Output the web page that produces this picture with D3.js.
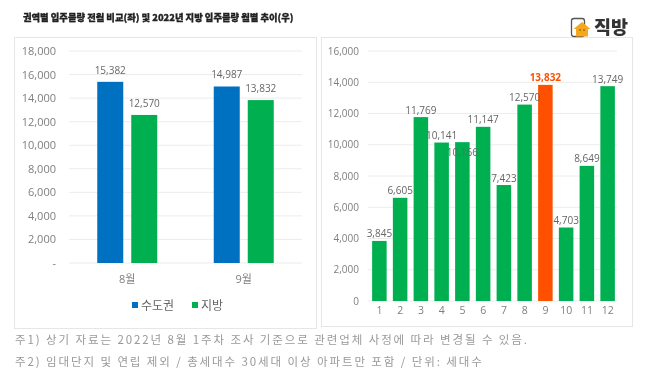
<!DOCTYPE html>
<html>
<head>
<meta charset="utf-8">
<script src="https://cdn.jsdelivr.net/npm/d3@7"></script>
<style>
  html, body { margin: 0; padding: 0; background: #fff; }
  svg { display: block; font-family: "Noto Sans CJK KR", "Noto Sans", sans-serif; filter: blur(0.35px); }
  .tick-label { fill: #7f7f7f; font-size: 11px; font-family: "Open Sans", "Noto Sans CJK KR", sans-serif; }
  .value-label { fill: #666; font-size: 10px; font-family: "Open Sans", "Noto Sans CJK KR", sans-serif; }
  .note { fill: #999; font-size: 11.5px; letter-spacing: 1.9px; }
</style>
</head>
<body>
<div id="chart"></div>
<script>
var svgWidth = 647;
var svgHeight = 381;

const titleText = "권역별 입주물량 전월 비교(좌) 및 2022년 지방 입주물량 월별 추이(우)";
const logoText = "직방";

// left chart
const leftCategories = ["8월", "9월"];
const leftSeriesNames = ["수도권", "지방"];
const metroValues = [15382, 14987];
const localValues = [12570, 13832];
const leftTicks = [0, 2000, 4000, 6000, 8000, 10000, 12000, 14000, 16000, 18000];

// right chart
const months = ["1", "2", "3", "4", "5", "6", "7", "8", "9", "10", "11", "12"];
const monthlyValues = [3845, 6605, 11769, 10141, 10166, 11147, 7423, 12570, 13832, 4703, 8649, 13749];
const rightTicks = [0, 2000, 4000, 6000, 8000, 10000, 12000, 14000, 16000];
const highlightMonth = "9";
const insideLabelMonth = "5";

const notes = [
  "주1) 상기 자료는 2022년 8월 1주차 조사 기준으로 관련업체 사정에 따라 변경될 수 있음.",
  "주2) 임대단지 및 연립 제외 / 총세대수 30세대 이상 아파트만 포함 / 단위: 세대수"
];

const blue = "#0070c0", green = "#00b050", orange = "#ff5000";
const fmt = d3.format(",");

var svg = d3.select("#chart").append("svg")
  .attr("width", svgWidth)
  .attr("height", svgHeight);

svg.append("text")
  .attr("x", 23)
  .attr("y", 21)
  .attr("font-size", 9.3)
  .attr("font-weight", 900)
  .attr("fill", "#222")
  .attr("stroke", "#222")
  .attr("stroke-width", 0.3)
  .text(titleText);

// panels
function panel(x, y, w, h) {
  svg.append("rect")
    .attr("x", x + 0.5).attr("y", y + 0.5)
    .attr("width", w).attr("height", h)
    .attr("fill", "#fff")
    .attr("stroke", "#e6e6e6");
}
panel(14, 37, 302, 291);
panel(321, 37, 311, 289);

function grid(yScale, ticks, x0, x1) {
  svg.append("g").selectAll("line")
    .data(ticks)
    .join("line")
    .attr("x1", x0).attr("x2", x1)
    .attr("y1", d => yScale(d)).attr("y2", d => yScale(d))
    .attr("stroke", "#ececec");
}

// Left chart
const yLeft = d3.scaleLinear().domain([0, 18000]).range([263, 51]);
const xLeft = d3.scaleBand().domain(leftCategories).range([69, 302]);
const xLeftInner = d3.scalePoint().domain(leftSeriesNames).range([-17, 17]);
const leftBarWidth = 26;

grid(yLeft, leftTicks, 69, 302);

const yLeftAxis = d3.axisLeft(yLeft)
  .tickValues(leftTicks)
  .tickSize(0)
  .tickPadding(0)
  .tickFormat(d => d === 0 ? "-" : fmt(d));
svg.append("g")
  .attr("transform", "translate(56,0)")
  .call(yLeftAxis)
  .call(g => g.select(".domain").remove())
  .call(g => g.selectAll("text").attr("class", "tick-label"));

const leftSeries = [
  { name: leftSeriesNames[0], values: metroValues, color: blue },
  { name: leftSeriesNames[1], values: localValues, color: green }
];

leftSeries.forEach(s => {
  const cx = (d, i) => xLeft(leftCategories[i]) + xLeft.bandwidth() / 2 + xLeftInner(s.name);
  svg.append("g").selectAll("rect")
    .data(s.values)
    .join("rect")
    .attr("x", (d, i) => cx(d, i) - leftBarWidth / 2)
    .attr("y", d => yLeft(d))
    .attr("width", leftBarWidth)
    .attr("height", d => yLeft(0) - yLeft(d))
    .attr("fill", s.color);
  svg.append("g").selectAll("text")
    .data(s.values)
    .join("text")
    .attr("class", "value-label")
    .attr("x", cx)
    .attr("y", d => yLeft(d) - 8)
    .attr("text-anchor", "middle")
    .text(fmt);
});

const xLeftAxis = d3.axisBottom(xLeft).tickSize(0).tickPadding(0);
svg.append("g")
  .attr("transform", "translate(0,275)")
  .call(xLeftAxis)
  .call(g => g.select(".domain").remove())
  .call(g => g.selectAll("text").attr("class", "tick-label"));

// legend
const legendX = d3.scalePoint().domain(leftSeriesNames).range([132, 192]);
const legend = svg.append("g").selectAll("g")
  .data(leftSeries)
  .join("g")
  .attr("transform", d => `translate(${legendX(d.name)},305)`);
legend.append("rect")
  .attr("y", -3).attr("width", 6).attr("height", 6)
  .attr("fill", d => d.color);
legend.append("text")
  .attr("x", 9)
  .attr("y", 4.5)
  .attr("font-size", 12)
  .attr("fill", "#666")
  .text(d => d.name);

// Right chart
const yRight = d3.scaleLinear().domain([0, 16000]).range([301, 51]);
const xRight = d3.scaleBand().domain(months).range([369, 618]).paddingInner(0.3).paddingOuter(0.15);

grid(yRight, rightTicks, 368, 617);

const yRightAxis = d3.axisLeft(yRight)
  .tickValues(rightTicks)
  .tickSize(0)
  .tickPadding(0)
  .tickFormat(fmt);
svg.append("g")
  .attr("transform", "translate(359,0)")
  .call(yRightAxis)
  .call(g => g.select(".domain").remove())
  .call(g => g.selectAll("text").attr("class", "tick-label").style("font-size", "10px"));

svg.append("g").selectAll("rect")
  .data(monthlyValues)
  .join("rect")
  .attr("x", (d, i) => xRight(months[i]))
  .attr("y", d => yRight(d))
  .attr("width", xRight.bandwidth())
  .attr("height", d => yRight(0) - yRight(d))
  .attr("fill", (d, i) => months[i] === highlightMonth ? orange : green);

// the May label sits inside its bar in the original, the others above
svg.append("g").selectAll("text")
  .data(monthlyValues)
  .join("text")
  .attr("class", "value-label")
  .attr("x", (d, i) => xRight(months[i]) + xRight.bandwidth() / 2)
  .attr("y", (d, i) => months[i] === insideLabelMonth ? yRight(d) + 14 : yRight(d) - 3.5)
  .attr("text-anchor", "middle")
  .style("fill", (d, i) => months[i] === highlightMonth ? orange : "#666")
  .style("font-weight", (d, i) => months[i] === highlightMonth ? 700 : 400)
  .text(fmt);

const xRightAxis = d3.axisBottom(xRight).tickSize(0).tickPadding(0);
svg.append("g")
  .attr("transform", "translate(0,307)")
  .call(xRightAxis)
  .call(g => g.select(".domain").remove())
  .call(g => g.selectAll("text").attr("class", "tick-label").style("font-size", "10.5px"));

// notes
svg.append("g").selectAll("text")
  .data(notes)
  .join("text")
  .attr("class", "note")
  .attr("x", 15)
  .attr("y", (d, i) => 344 + i * 22)
  .text(d => d);

// logo
const logo = svg.append("g").attr("transform", "translate(571,18)");
logo.append("rect")
  .attr("x", 0.5).attr("y", 0.5).attr("width", 13).attr("height", 18).attr("rx", 2.5)
  .attr("fill", "#fff").attr("stroke", "#555").attr("stroke-width", 1.3);
logo.append("path")
  .attr("d", "M2.5 11 L11 4 L19.5 11 L17 11 L17 18.5 L5 18.5 L5 11 Z")
  .attr("fill", "#f5a81c");
logo.selectAll("circle")
  .data([9, 13])
  .join("circle")
  .attr("cx", d => d).attr("cy", 12).attr("r", 0.8)
  .attr("fill", "#6b4a10");
svg.append("text")
  .attr("x", 594)
  .attr("y", 34)
  .attr("font-size", 18.5)
  .attr("font-weight", 900)
  .attr("fill", "#333")
  .text(logoText);
</script>
</body>
</html>
